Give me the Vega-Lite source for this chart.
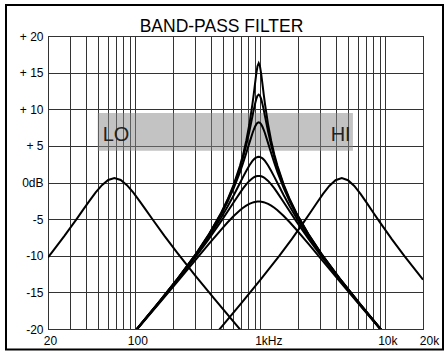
{
  "$schema": "https://vega.github.io/schema/vega-lite/v6.json",
  "width": 375,
  "height": 293,
  "autosize": "none",
  "padding": {"left": 48, "top": 36, "right": 25, "bottom": 24},
  "background": "white",
  "config": {"view": {"stroke": "#000", "strokeWidth": 1}, "font": "Liberation Sans"},
  "title": {"text": "BAND-PASS FILTER", "fontSize": 17.5, "fontWeight": "normal", "font": "Liberation Sans", "color": "#000", "anchor": "middle", "frame": "group", "dx": -14, "dy": 22, "offset": -23, "baseline": "alphabetic"},
  "datasets": {
    "curves": [
      {"c":"a","f":97.0,"y":-20.51},{"c":"a","f":153.73,"y":-16.38},{"c":"a","f":217.16,"y":-13.16},{"c":"a","f":306.74,"y":-9.70},{"c":"a","f":386.16,"y":-7.12},{"c":"a","f":486.15,"y":-4.13},{"c":"a","f":545.47,"y":-2.36},{"c":"a","f":612.03,"y":-0.29},{"c":"a","f":686.71,"y":2.27},{"c":"a","f":727.40,"y":3.82},{"c":"a","f":770.50,"y":5.67},{"c":"a","f":816.15,"y":7.91},{"c":"a","f":864.51,"y":10.73},{"c":"a","f":884.65,"y":12.04},{"c":"a","f":905.26,"y":13.43},{"c":"a","f":926.34,"y":14.79},{"c":"a","f":947.92,"y":15.87},{"c":"a","f":970,"y":16.3},{"c":"a","f":992.59,"y":15.87},{"c":"a","f":1015.72,"y":14.79},{"c":"a","f":1039.37,"y":13.43},{"c":"a","f":1063.58,"y":12.04},{"c":"a","f":1088.36,"y":10.73},{"c":"a","f":1152.85,"y":7.91},{"c":"a","f":1221.16,"y":5.67},{"c":"a","f":1293.52,"y":3.82},{"c":"a","f":1370.16,"y":2.27},{"c":"a","f":1537.35,"y":-0.29},{"c":"a","f":1724.93,"y":-2.36},{"c":"a","f":1935.40,"y":-4.13},{"c":"a","f":2436.53,"y":-7.12},{"c":"a","f":3067.41,"y":-9.70},{"c":"a","f":4332.83,"y":-13.16},{"c":"a","f":6120.29,"y":-16.38},{"c":"a","f":9700,"y":-20.51},
      {"c":"b","f":97.0,"y":-20.52},{"c":"b","f":153.73,"y":-16.38},{"c":"b","f":217.16,"y":-13.17},{"c":"b","f":306.74,"y":-9.71},{"c":"b","f":386.16,"y":-7.15},{"c":"b","f":486.15,"y":-4.19},{"c":"b","f":545.47,"y":-2.46},{"c":"b","f":612.03,"y":-0.45},{"c":"b","f":686.71,"y":1.99},{"c":"b","f":727.40,"y":3.43},{"c":"b","f":770.50,"y":5.07},{"c":"b","f":816.15,"y":6.96},{"c":"b","f":864.51,"y":9.06},{"c":"b","f":884.65,"y":9.91},{"c":"b","f":905.26,"y":10.70},{"c":"b","f":926.34,"y":11.38},{"c":"b","f":947.92,"y":11.84},{"c":"b","f":970,"y":12.0},{"c":"b","f":992.59,"y":11.84},{"c":"b","f":1015.72,"y":11.38},{"c":"b","f":1039.37,"y":10.70},{"c":"b","f":1063.58,"y":9.91},{"c":"b","f":1088.36,"y":9.06},{"c":"b","f":1152.85,"y":6.96},{"c":"b","f":1221.16,"y":5.07},{"c":"b","f":1293.52,"y":3.43},{"c":"b","f":1370.16,"y":1.99},{"c":"b","f":1537.35,"y":-0.45},{"c":"b","f":1724.93,"y":-2.46},{"c":"b","f":1935.40,"y":-4.19},{"c":"b","f":2436.53,"y":-7.15},{"c":"b","f":3067.41,"y":-9.71},{"c":"b","f":4332.83,"y":-13.17},{"c":"b","f":6120.29,"y":-16.38},{"c":"b","f":9700,"y":-20.52},
      {"c":"c","f":97.0,"y":-20.52},{"c":"c","f":153.73,"y":-16.39},{"c":"c","f":217.16,"y":-13.19},{"c":"c","f":306.74,"y":-9.76},{"c":"c","f":386.16,"y":-7.23},{"c":"c","f":486.15,"y":-4.34},{"c":"c","f":545.47,"y":-2.67},{"c":"c","f":612.03,"y":-0.78},{"c":"c","f":686.71,"y":1.42},{"c":"c","f":727.40,"y":2.66},{"c":"c","f":770.50,"y":3.99},{"c":"c","f":816.15,"y":5.38},{"c":"c","f":864.51,"y":6.73},{"c":"c","f":884.65,"y":7.20},{"c":"c","f":905.26,"y":7.61},{"c":"c","f":926.34,"y":7.93},{"c":"c","f":947.92,"y":8.13},{"c":"c","f":970,"y":8.2},{"c":"c","f":992.59,"y":8.13},{"c":"c","f":1015.72,"y":7.93},{"c":"c","f":1039.37,"y":7.61},{"c":"c","f":1063.58,"y":7.20},{"c":"c","f":1088.36,"y":6.73},{"c":"c","f":1152.85,"y":5.38},{"c":"c","f":1221.16,"y":3.99},{"c":"c","f":1293.52,"y":2.66},{"c":"c","f":1370.16,"y":1.42},{"c":"c","f":1537.35,"y":-0.78},{"c":"c","f":1724.93,"y":-2.67},{"c":"c","f":1935.40,"y":-4.34},{"c":"c","f":2436.53,"y":-7.23},{"c":"c","f":3067.41,"y":-9.76},{"c":"c","f":4332.83,"y":-13.19},{"c":"c","f":6120.29,"y":-16.39},{"c":"c","f":9700,"y":-20.52},
      {"c":"d","f":97.0,"y":-20.53},{"c":"d","f":153.73,"y":-16.42},{"c":"d","f":217.16,"y":-13.25},{"c":"d","f":306.74,"y":-9.89},{"c":"d","f":386.16,"y":-7.46},{"c":"d","f":486.15,"y":-4.78},{"c":"d","f":545.47,"y":-3.31},{"c":"d","f":612.03,"y":-1.74},{"c":"d","f":686.71,"y":-0.07},{"c":"d","f":727.40,"y":0.77},{"c":"d","f":770.50,"y":1.58},{"c":"d","f":816.15,"y":2.33},{"c":"d","f":864.51,"y":2.94},{"c":"d","f":884.65,"y":3.14},{"c":"d","f":905.26,"y":3.29},{"c":"d","f":926.34,"y":3.41},{"c":"d","f":947.92,"y":3.48},{"c":"d","f":970,"y":3.5},{"c":"d","f":992.59,"y":3.48},{"c":"d","f":1015.72,"y":3.41},{"c":"d","f":1039.37,"y":3.29},{"c":"d","f":1063.58,"y":3.14},{"c":"d","f":1088.36,"y":2.94},{"c":"d","f":1152.85,"y":2.33},{"c":"d","f":1221.16,"y":1.58},{"c":"d","f":1293.52,"y":0.77},{"c":"d","f":1370.16,"y":-0.07},{"c":"d","f":1537.35,"y":-1.74},{"c":"d","f":1724.93,"y":-3.31},{"c":"d","f":1935.40,"y":-4.78},{"c":"d","f":2436.53,"y":-7.46},{"c":"d","f":3067.41,"y":-9.89},{"c":"d","f":4332.83,"y":-13.25},{"c":"d","f":6120.29,"y":-16.42},{"c":"d","f":9700,"y":-20.53},
      {"c":"e","f":97.0,"y":-20.54},{"c":"e","f":153.73,"y":-16.46},{"c":"e","f":217.16,"y":-13.32},{"c":"e","f":306.74,"y":-10.05},{"c":"e","f":386.16,"y":-7.74},{"c":"e","f":486.15,"y":-5.28},{"c":"e","f":545.47,"y":-4.00},{"c":"e","f":612.03,"y":-2.69},{"c":"e","f":686.71,"y":-1.41},{"c":"e","f":727.40,"y":-0.81},{"c":"e","f":770.50,"y":-0.26},{"c":"e","f":816.15,"y":0.22},{"c":"e","f":864.51,"y":0.58},{"c":"e","f":884.65,"y":0.70},{"c":"e","f":905.26,"y":0.78},{"c":"e","f":926.34,"y":0.85},{"c":"e","f":947.92,"y":0.89},{"c":"e","f":970,"y":0.9},{"c":"e","f":992.59,"y":0.89},{"c":"e","f":1015.72,"y":0.85},{"c":"e","f":1039.37,"y":0.78},{"c":"e","f":1063.58,"y":0.70},{"c":"e","f":1088.36,"y":0.58},{"c":"e","f":1152.85,"y":0.22},{"c":"e","f":1221.16,"y":-0.26},{"c":"e","f":1293.52,"y":-0.81},{"c":"e","f":1370.16,"y":-1.41},{"c":"e","f":1537.35,"y":-2.69},{"c":"e","f":1724.93,"y":-4.00},{"c":"e","f":1935.40,"y":-5.28},{"c":"e","f":2436.53,"y":-7.74},{"c":"e","f":3067.41,"y":-10.05},{"c":"e","f":4332.83,"y":-13.32},{"c":"e","f":6120.29,"y":-16.46},{"c":"e","f":9700,"y":-20.54},
      {"c":"f","f":97.0,"y":-20.58},{"c":"f","f":153.73,"y":-16.56},{"c":"f","f":217.16,"y":-13.52},{"c":"f","f":306.74,"y":-10.46},{"c":"f","f":386.16,"y":-8.42},{"c":"f","f":486.15,"y":-6.42},{"c":"f","f":545.47,"y":-5.46},{"c":"f","f":612.03,"y":-4.57},{"c":"f","f":686.71,"y":-3.78},{"c":"f","f":727.40,"y":-3.45},{"c":"f","f":770.50,"y":-3.15},{"c":"f","f":816.15,"y":-2.92},{"c":"f","f":864.51,"y":-2.74},{"c":"f","f":884.65,"y":-2.69},{"c":"f","f":905.26,"y":-2.65},{"c":"f","f":926.34,"y":-2.62},{"c":"f","f":947.92,"y":-2.61},{"c":"f","f":970,"y":-2.6},{"c":"f","f":992.59,"y":-2.61},{"c":"f","f":1015.72,"y":-2.62},{"c":"f","f":1039.37,"y":-2.65},{"c":"f","f":1063.58,"y":-2.69},{"c":"f","f":1088.36,"y":-2.74},{"c":"f","f":1152.85,"y":-2.92},{"c":"f","f":1221.16,"y":-3.15},{"c":"f","f":1293.52,"y":-3.45},{"c":"f","f":1370.16,"y":-3.78},{"c":"f","f":1537.35,"y":-4.57},{"c":"f","f":1724.93,"y":-5.46},{"c":"f","f":1935.40,"y":-6.42},{"c":"f","f":2436.53,"y":-8.42},{"c":"f","f":3067.41,"y":-10.46},{"c":"f","f":4332.83,"y":-13.52},{"c":"f","f":6120.29,"y":-16.56},{"c":"f","f":9700,"y":-20.58},
      {"c":"lo","f":20,"y":-10.23},{"c":"lo","f":21.50,"y":-9.53},{"c":"lo","f":27.07,"y":-7.28},{"c":"lo","f":34.08,"y":-4.92},{"c":"lo","f":38.24,"y":-3.71},{"c":"lo","f":42.91,"y":-2.51},{"c":"lo","f":48.14,"y":-1.36},{"c":"lo","f":54.01,"y":-0.36},{"c":"lo","f":60.61,"y":0.34},{"c":"lo","f":68,"y":0.6},{"c":"lo","f":76.30,"y":0.34},{"c":"lo","f":85.61,"y":-0.36},{"c":"lo","f":96.05,"y":-1.36},{"c":"lo","f":107.77,"y":-2.51},{"c":"lo","f":120.92,"y":-3.71},{"c":"lo","f":135.68,"y":-4.92},{"c":"lo","f":170.81,"y":-7.28},{"c":"lo","f":215.03,"y":-9.53},{"c":"lo","f":303.74,"y":-12.77},{"c":"lo","f":429.05,"y":-15.88},{"c":"lo","f":680,"y":-19.96},{"c":"lo","f":856.07,"y":-21.98},
      {"c":"hi","f":355.86,"y":-22.51},{"c":"hi","f":448,"y":-20.49},{"c":"hi","f":710.03,"y":-16.41},{"c":"hi","f":1002.95,"y":-13.27},{"c":"hi","f":1416.70,"y":-10.02},{"c":"hi","f":1783.52,"y":-7.73},{"c":"hi","f":2245.32,"y":-5.31},{"c":"hi","f":2519.29,"y":-4.06},{"c":"hi","f":2826.69,"y":-2.79},{"c":"hi","f":3171.60,"y":-1.56},{"c":"hi","f":3558.59,"y":-0.47},{"c":"hi","f":3992.80,"y":0.31},{"c":"hi","f":4480,"y":0.6},{"c":"hi","f":5026.64,"y":0.31},{"c":"hi","f":5639.98,"y":-0.47},{"c":"hi","f":6328.17,"y":-1.56},{"c":"hi","f":7100.32,"y":-2.79},{"c":"hi","f":7966.69,"y":-4.06},{"c":"hi","f":8938.77,"y":-5.31},{"c":"hi","f":11253.25,"y":-7.73},{"c":"hi","f":14167.0,"y":-10.02},{"c":"hi","f":20000,"y":-13.27}
    ]
  },
  "layer": [
    {
      "data": {"values": [{}]},
      "mark": {"type": "rect", "fill": "#888888", "opacity": 0.5},
      "encoding": {
        "x": {"datum": 50, "type": "quantitative", "scale": {"type": "log", "domain": [20, 20000], "nice": false},
          "axis": {"values": [20,30,40,50,60,70,80,90,100,200,300,400,500,600,700,800,900,1000,2000,3000,4000,5000,6000,7000,8000,9000,10000,20000], "tickCount": 40,
            "grid": true, "ticks": false, "domain": false, "title": null, "gridColor": "#333333", "gridWidth": 1, "gridOpacity": 1,
            "labelExpr": "datum.value == 20 ? '20' : datum.value == 100 ? '100' : datum.value == 1000 ? '1kHz' : datum.value == 10000 ? '10k' : datum.value == 20000 ? '20k' : ''",
            "labelFont": "Liberation Sans", "labelFontSize": 12, "labelColor": "#000", "labelBaseline": "alphabetic", "labelPadding": 15, "labelAlign": "center", "labelFlush": false, "labelOverlap": false,
            "labelOffset": {"condition": [{"test": "datum.value == 1000", "value": 8}, {"test": "datum.value == 20000", "value": 6}], "value": 2}}},
        "x2": {"datum": 5500},
        "y": {"datum": 9.5, "type": "quantitative", "scale": {"domain": [-20, 20], "nice": false, "zero": false},
          "axis": {"values": [-20,-15,-10,-5,0,5,10,15,20], "tickCount": 20, "grid": true, "ticks": false, "domain": false, "title": null, "gridColor": "#333333", "gridWidth": 1, "gridOpacity": 1,
            "labelExpr": "datum.value > 0 ? '+ ' + datum.value : datum.value == 0 ? '0dB' : '' + datum.value",
            "labelFont": "Liberation Sans", "labelFontSize": 12, "labelColor": "#000", "labelPadding": 5, "labelFlush": false, "labelOverlap": false}},
        "y2": {"datum": 4.35}
      }
    },
    {
      "data": {"name": "curves"},
      "mark": {"type": "line", "stroke": "#000", "strokeWidth": 2, "clip": true},
      "encoding": {
        "x": {"field": "f", "type": "quantitative", "scale": {"type": "log", "domain": [20, 20000], "nice": false},
          "axis": {"values": [20,30,40,50,60,70,80,90,100,200,300,400,500,600,700,800,900,1000,2000,3000,4000,5000,6000,7000,8000,9000,10000,20000], "tickCount": 40,
            "grid": true, "ticks": false, "domain": false, "title": null, "gridColor": "#333333", "gridWidth": 1, "gridOpacity": 1,
            "labelExpr": "datum.value == 20 ? '20' : datum.value == 100 ? '100' : datum.value == 1000 ? '1kHz' : datum.value == 10000 ? '10k' : datum.value == 20000 ? '20k' : ''",
            "labelFont": "Liberation Sans", "labelFontSize": 12, "labelColor": "#000", "labelBaseline": "alphabetic", "labelPadding": 15, "labelAlign": "center", "labelFlush": false, "labelOverlap": false,
            "labelOffset": {"condition": [{"test": "datum.value == 1000", "value": 8}, {"test": "datum.value == 20000", "value": 6}], "value": 2}}},
        "y": {"field": "y", "type": "quantitative", "scale": {"domain": [-20, 20], "nice": false, "zero": false},
          "axis": {"values": [-20,-15,-10,-5,0,5,10,15,20], "tickCount": 20, "grid": true, "ticks": false, "domain": false, "title": null, "gridColor": "#333333", "gridWidth": 1, "gridOpacity": 1,
            "labelExpr": "datum.value > 0 ? '+ ' + datum.value : datum.value == 0 ? '0dB' : '' + datum.value",
            "labelFont": "Liberation Sans", "labelFontSize": 12, "labelColor": "#000", "labelPadding": 5, "labelFlush": false, "labelOverlap": false}},
        "detail": {"field": "c", "type": "nominal"}
      }
    },
    {
      "data": {"values": [{}]},
      "mark": {"type": "text", "font": "Liberation Sans", "fontSize": 20, "fill": "#222", "baseline": "alphabetic", "align": "center"},
      "encoding": {
        "x": {"datum": 70, "type": "quantitative", "scale": {"type": "log", "domain": [20, 20000], "nice": false}},
        "y": {"datum": 5.7, "type": "quantitative", "scale": {"domain": [-20, 20], "nice": false, "zero": false}},
        "text": {"value": "LO"}
      }
    },
    {
      "data": {"values": [{}]},
      "mark": {"type": "text", "font": "Liberation Sans", "fontSize": 20, "fill": "#222", "baseline": "alphabetic", "align": "center"},
      "encoding": {
        "x": {"datum": 4390, "type": "quantitative", "scale": {"type": "log", "domain": [20, 20000], "nice": false}},
        "y": {"datum": 5.7, "type": "quantitative", "scale": {"domain": [-20, 20], "nice": false, "zero": false}},
        "text": {"value": "HI"}
      }
    },
    {
      "data": {"values": [{}]},
      "mark": {"type": "rect", "filled": false, "stroke": "#000", "strokeWidth": 2, "clip": false},
      "encoding": {
        "x": {"datum": 9.227, "type": "quantitative", "scale": {"type": "log", "domain": [20, 20000], "nice": false}},
        "x2": {"datum": 28907},
        "y": {"datum": 24.23, "type": "quantitative", "scale": {"domain": [-20, 20], "nice": false, "zero": false}},
        "y2": {"datum": -22.8}
      }
    }
  ]
}
